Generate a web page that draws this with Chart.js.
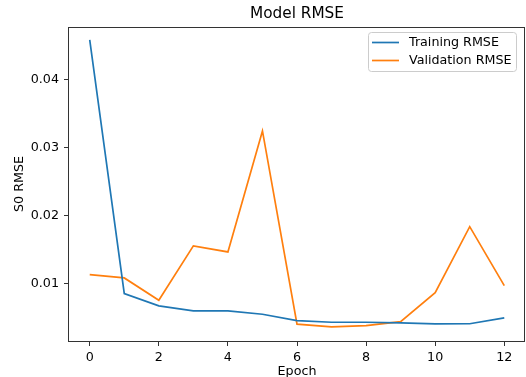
<!DOCTYPE html>
<html>
<head>
<meta charset="utf-8">
<script src="https://cdn.jsdelivr.net/npm/chart.js@4.4.1/dist/chart.umd.min.js"></script>
<style>
  html, body { margin: 0; padding: 0; background: #ffffff; }
  #c { display: block; }
</style>
</head>
<body>
<canvas id="c" width="526" height="377"></canvas>
<script>
// ---- data ----
const epochs = [0, 1, 2, 3, 4, 5, 6, 7, 8, 9, 10, 11, 12];
const trainingRMSE = [0.0458, 0.00847, 0.00666, 0.00593, 0.00593, 0.00544, 0.00450, 0.00426, 0.00426, 0.00416, 0.00401, 0.00404, 0.00490];
const validationRMSE = [0.01127, 0.01078, 0.0075, 0.01549, 0.0146, 0.0324, 0.00397, 0.00357, 0.00376, 0.00435, 0.00862, 0.01832, 0.00965];
const xTicks = [0, 2, 4, 6, 8, 10, 12];
const yTicks = [0.01, 0.02, 0.03, 0.04];
const seriesLabels = ['Training RMSE', 'Validation RMSE'];
const seriesColors = ['#1f77b4', '#ff7f0e'];

const FONT = "'DejaVu Sans', sans-serif";
const FS = 12.7;

const toPoints = (vals) => epochs.map((e, i) => ({ x: e, y: vals[i] }));

const framePlugin = {
  id: 'frame',
  afterLayout(chart) {
    const ca = chart.chartArea;
    if (chart.titleBlock) {
      chart.titleBlock.left = ca.left;
      chart.titleBlock.right = ca.right;
    }
  },
  afterDatasetsDraw(chart) {
    const ctx = chart.ctx;
    const ca = chart.chartArea;
    ctx.save();
    ctx.strokeStyle = '#333333';
    ctx.lineWidth = 1;
    ctx.strokeRect(Math.round(ca.left) - 0.5, Math.round(ca.top) + 0.5,
                   Math.round(ca.right - ca.left) + 0, Math.round(ca.bottom - ca.top));
    ctx.restore();
  },
  afterDraw(chart) {
    // legend box in upper right, like matplotlib
    const ctx = chart.ctx;
    const ds = chart.data.datasets;
    ctx.save();
    const bx = 368.5, by = 32.5, bw = 148, bh = 39, r = 3;
    ctx.beginPath();
    ctx.moveTo(bx + r, by);
    ctx.lineTo(bx + bw - r, by);
    ctx.arcTo(bx + bw, by, bx + bw, by + r, r);
    ctx.lineTo(bx + bw, by + bh - r);
    ctx.arcTo(bx + bw, by + bh, bx + bw - r, by + bh, r);
    ctx.lineTo(bx + r, by + bh);
    ctx.arcTo(bx, by + bh, bx, by + bh - r, r);
    ctx.lineTo(bx, by + r);
    ctx.arcTo(bx, by, bx + r, by, r);
    ctx.closePath();
    ctx.fillStyle = 'rgba(255,255,255,0.8)';
    ctx.fill();
    ctx.strokeStyle = '#cccccc';
    ctx.lineWidth = 1;
    ctx.stroke();
    ctx.font = FS + 'px ' + FONT;
    ctx.textBaseline = 'middle';
    ctx.textAlign = 'left';
    const rowsY = [42.5, 60.5];
    ds.forEach((d, i) => {
      ctx.strokeStyle = d.borderColor;
      ctx.lineWidth = 1.7;
      ctx.beginPath();
      ctx.moveTo(372, rowsY[i]);
      ctx.lineTo(399, rowsY[i]);
      ctx.stroke();
      ctx.fillStyle = '#000000';
      ctx.fillText(d.label, 409, rowsY[i] + 0.5);
    });
    ctx.restore();
  }
};

new Chart(document.getElementById('c'), {
  type: 'line',
  data: {
    datasets: [
      { label: seriesLabels[0], data: toPoints(trainingRMSE), borderColor: seriesColors[0], backgroundColor: seriesColors[0], borderWidth: 1.7, pointRadius: 0, tension: 0, fill: false },
      { label: seriesLabels[1], data: toPoints(validationRMSE), borderColor: seriesColors[1], backgroundColor: seriesColors[1], borderWidth: 1.7, pointRadius: 0, tension: 0, fill: false }
    ]
  },
  options: {
    responsive: false,
    animation: false,
    devicePixelRatio: 1,
    layout: { padding: { left: 0, right: 1, top: 0, bottom: 0 } },
    plugins: {
      legend: { display: false },
      tooltip: { enabled: false },
      title: {
        display: true,
        text: 'Model RMSE',
        color: '#000000',
        font: { family: FONT, size: 15.3, weight: 'normal' },
        padding: { top: 5, bottom: 3.6 }
      }
    },
    scales: {
      x: {
        type: 'linear',
        min: -0.6,
        max: 12.6,
        afterBuildTicks: (s) => { s.ticks = xTicks.map(v => ({ value: v })); },
        afterFit: (s) => { s.height = 36; },
        ticks: { color: '#000000', font: { family: FONT, size: FS }, padding: 4, maxRotation: 0, callback: (v) => String(v) },
        grid: { display: true, drawOnChartArea: false, drawTicks: true, tickLength: 5, color: '#333333', lineWidth: 1 },
        border: { display: false },
        title: { display: true, text: 'Epoch', color: '#000000', font: { family: FONT, size: FS }, padding: { top: 0, bottom: -2 } }
      },
      y: {
        type: 'linear',
        min: 0.0015,
        max: 0.0477,
        afterBuildTicks: (s) => { s.ticks = yTicks.map(v => ({ value: v })); },
        afterFit: (s) => { s.width = 69; },
        ticks: { color: '#000000', font: { family: FONT, size: FS }, padding: 5, callback: (v) => v.toFixed(2) },
        grid: { display: true, drawOnChartArea: false, drawTicks: true, tickLength: 5, color: '#333333', lineWidth: 1 },
        border: { display: false },
        title: { display: true, text: 'S0 RMSE', color: '#000000', font: { family: FONT, size: FS }, padding: { top: 12, bottom: 0 } }
      }
    }
  },
  plugins: [framePlugin]
});
</script>
</body>
</html>
